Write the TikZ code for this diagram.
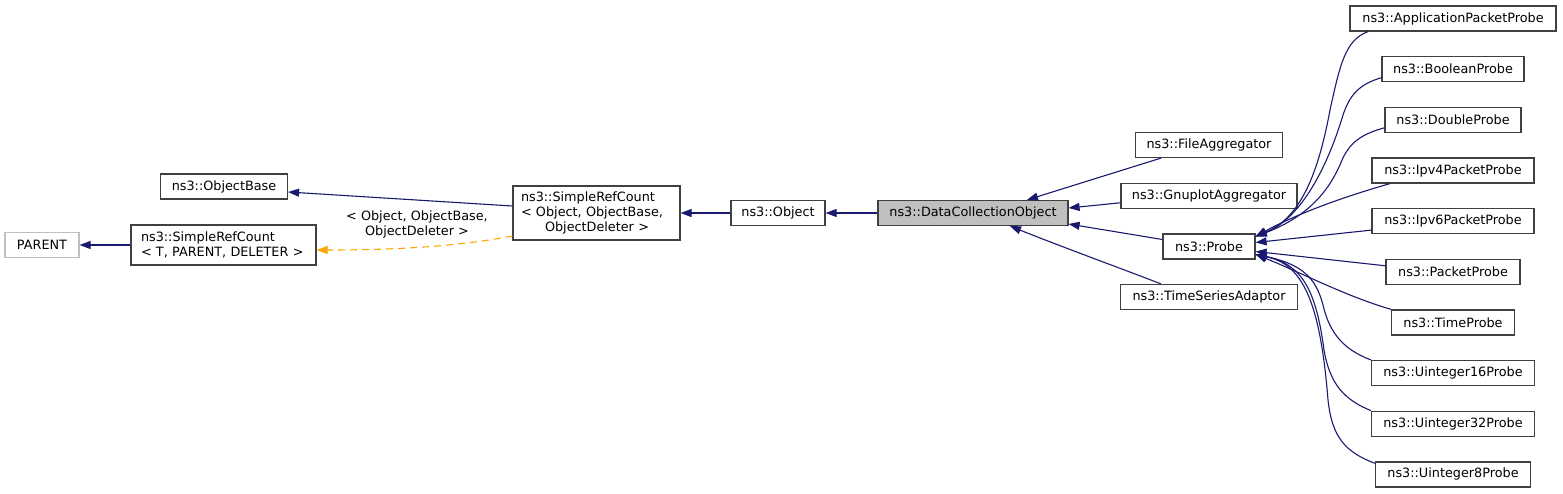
\documentclass[tikz,border=0pt]{standalone}
\usepackage{fontspec}
\setmainfont{DejaVu Sans}
\usetikzlibrary{arrows.meta}
\definecolor{edgeblue}{RGB}{25,25,112}
\definecolor{tmplorange}{RGB}{255,165,0}
\definecolor{selgray}{RGB}{191,191,191}

\begin{document}
\begin{tikzpicture}[x=1pt,y=-1pt,
        cls/.style={draw=black!75, line width=1.2pt, fill=white, minimum height=25pt, inner sep=2pt, font=\fontsize{12.8}{15}\selectfont},
        edge/.style={draw=edgeblue, line width=1.1pt, -{Triangle[length=11pt,width=8pt]}},
        tmpl/.style={draw=tmplorange, line width=1.1pt, dash pattern=on 7pt off 5pt, -{Triangle[length=11pt,width=8pt]}}]

            \useasboundingbox (0,0) rectangle (1563,493);

            \node[cls, draw=black!25, minimum width=74pt] (parent) at (42,245) {PARENT};
            \node[cls, minimum width=185pt, minimum height=40pt, text width=165pt, align=left] (srct) at (223.5,245)
                {ns3::SimpleRefCount\\< T, PARENT, DELETER >};
            \node[cls, minimum width=127pt] (obase) at (224,186.5) {ns3::ObjectBase};
            \node[cls, minimum width=167pt, minimum height=54pt, text width=151pt, align=left] (srco) at (596.5,213)
                {ns3::SimpleRefCount\\< Object, ObjectBase,\\\hspace*{24pt}ObjectDeleter >};
            \node[cls, minimum width=94pt] (object) at (778,213) {ns3::Object};
            \node[cls, fill=selgray, minimum width=190pt] (dco) at (973,213) {ns3::DataCollectionObject};

            \node[font=\fontsize{12.8}{15}\selectfont, align=center] (tmpllabel) at (417,224)
                {< Object, ObjectBase,\\ObjectDeleter >};

            \node[cls, minimum width=147pt] (fileagg) at (1209,145) {ns3::FileAggregator};
            \node[cls, minimum width=176pt] (gnuplot) at (1209,195.8) {ns3::GnuplotAggregator};
            \node[cls, minimum width=92pt] (probe) at (1209,246.5) {ns3::Probe};
            \node[cls, minimum width=177pt] (tsa) at (1209,297) {ns3::TimeSeriesAdaptor};

            \foreach \nm/\txt/\yy/\ww in {app/ApplicationPacketProbe/18.5/206, boolean/BooleanProbe/69.2/142,
                    double/DoubleProbe/119.8/136, ipv4/Ipv4PacketProbe/170.5/162, ipv6/Ipv6PacketProbe/221.1/162,
                    packet/PacketProbe/271.8/134, time/TimeProbe/322.4/123, u16/Uinteger16Probe/373/163,
                    u32/Uinteger32Probe/423.7/163, u8/Uinteger8Probe/474.4/155} {
                \node[cls, minimum width=\ww pt] (\nm) at (1453,\yy) {ns3::\txt};
            }

            % probes
            \draw[edge] ([xshift=-85pt]app.south) .. controls (1345,40) and (1340,65) .. (1330,110)
                .. controls (1318,175) and (1300,218) .. ([yshift=10pt]probe.east);
            \draw[edge] ([yshift=-8.5pt]boolean.west) .. controls (1360,84) and (1350,94) .. (1343,115)
                .. controls (1328,165) and (1302,218) .. ([yshift=10pt]probe.east);
            \draw[edge] ([yshift=-8pt]double.west) .. controls (1362,134) and (1350,142) .. (1342,160)
                .. controls (1328,195) and (1304,218) .. ([yshift=10pt]probe.east);
            \draw[edge] ([xshift=-63pt]ipv4.south) .. controls (1350,195) and (1300,212) .. ([yshift=10pt]probe.east);
            \draw[edge] ([yshift=-9pt]ipv6.west) -- ([yshift=4pt]probe.east);
            \draw[edge] ([yshift=6pt]packet.west) -- ([yshift=-5pt]probe.east);
            \draw[edge] (time.north west) .. controls (1345,296) and (1300,272) .. ([yshift=-8pt]probe.east);
            \draw[edge] (u16.north west) .. controls (1345,350) and (1330,335) .. (1323,305)
                .. controls (1316,278) and (1302,264) .. ([yshift=-8pt]probe.east);
            \draw[edge] (u32.north west) .. controls (1345,400) and (1330,385) .. (1324,350)
                .. controls (1316,290) and (1302,264) .. ([yshift=-8pt]probe.east);
            \draw[edge] ([yshift=-2pt]u8.north west) .. controls (1345,452) and (1332,437) .. (1328,400)
                .. controls (1320,300) and (1302,264) .. ([yshift=-8pt]probe.east);

            \draw[edge] ([xshift=-48pt]fileagg.south) -- ([xshift=54pt]dco.north);
            \draw[edge] ([yshift=-7pt]gnuplot.west) -- ([yshift=5pt]dco.east);
            \draw[edge] ([yshift=7pt]probe.west) -- ([yshift=-11pt]dco.east);
            \draw[edge] ([xshift=-48pt]tsa.north) .. controls (1120,268) and (1070,250) .. ([xshift=37pt]dco.south);

            \draw[edge] (dco.west) -- (object.east);
            \draw[edge] (object.west) -- (srco.east);
            \draw[edge] ([yshift=7pt]srco.west) -- ([yshift=-5.5pt]obase.east);
            \draw[tmpl] ([yshift=-23pt]srco.west) .. controls (460,246) and (400,250) .. ([yshift=-5pt]srct.east);
            \draw[edge] (srct.west) -- (parent.east);
        \end{tikzpicture}
\end{document}
